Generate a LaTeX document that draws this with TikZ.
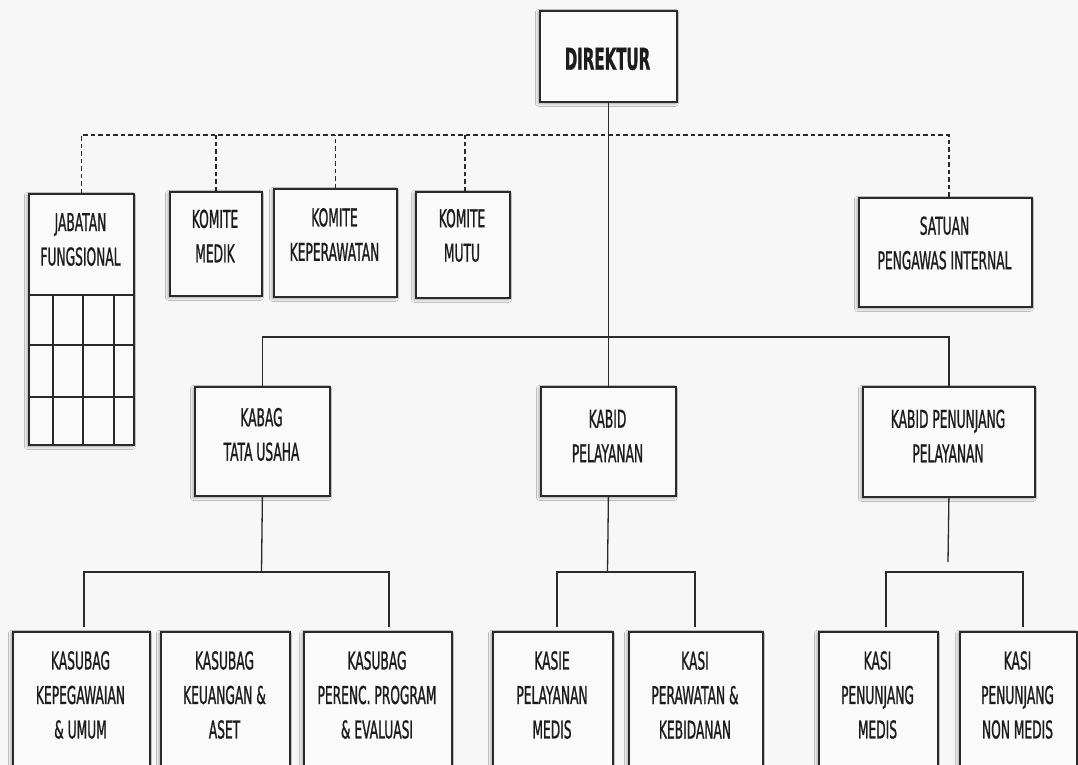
\documentclass[tikz,border=0pt]{standalone}
\usepackage{fontspec}
\setmainfont[FakeStretch=0.5,FakeBold=0.9]{DejaVu Sans}
\usetikzlibrary{shadows.blur}
\definecolor{bg}{HTML}{F7F7F7}
\definecolor{boxfill}{HTML}{FAFAFA}
\definecolor{ink}{HTML}{1C1C1C}
\definecolor{edge}{HTML}{2A2A2A}

\begin{document}
\begin{tikzpicture}[x=1pt,y=-1pt,
  box/.style={rectangle, draw=edge, line width=1.8pt, fill=boxfill, inner sep=0pt,
    anchor=north west,
    blur shadow={shadow xshift=-1.5pt, shadow yshift=-1.5pt,
      shadow blur radius=3pt, shadow opacity=40}},
  lbl/.style={align=center, text=ink, inner sep=0pt,
    font=\fontsize{24.5}{34.5}\selectfont},
  grid/.style={draw=edge, line width=1.4pt},
  conn/.style={draw=edge, line width=1.3pt},
  dconn/.style={conn, dash pattern=on 4.5pt off 3pt}]

% canvas and page frame
\fill[bg] (0,0) rectangle (1078,765);
\useasboundingbox (0,0) rectangle (1078,765);
\clip (0,0) rectangle (1078,765);

% ---- top level ----
\node[box, minimum width=137pt, minimum height=91pt] (dir) at (539,10) {};
\node[lbl, font=\fontsize{30}{36}\selectfont\bfseries] (dirt) at (607.5,59) {DIREKTUR};

% ---- staff / committee row ----
\node[box, minimum width=105pt, minimum height=251pt] (jf) at (28,193) {};
\node[box, minimum width=92pt,  minimum height=104pt] (km) at (169,191) {};
\node[box, minimum width=123pt, minimum height=108pt] (kk) at (273,188) {};
\node[box, minimum width=94pt,  minimum height=106pt] (kmu) at (415,191) {};
\node[box, minimum width=173pt, minimum height=109pt] (spi) at (858,197) {};

% table under the functional-positions header
\draw[grid] (28,295) -- (133,295);
\draw[grid] (28,345) -- (133,345);
\draw[grid] (28,397) -- (133,397);
\draw[grid] (53,295) -- (53,444);
\draw[grid] (83,295) -- (83,444);
\draw[grid] (114,295) -- (114,444);

\node[lbl] (jft)  at (80.5,239.5) {JABATAN\\FUNGSIONAL};
\node[lbl] (kmt)  at (215,236)    {KOMITE\\MEDIK};
\node[lbl] (kkt)  at (334.5,234.5){KOMITE\\KEPERAWATAN};
\node[lbl] (kmut) at (462,235.5)  {KOMITE\\MUTU};
\node[lbl] (spit) at (944.5,243)  {SATUAN\\PENGAWAS INTERNAL};

% ---- second level ----
\node[box, minimum width=135pt, minimum height=109pt] (kabag) at (194,386) {};
\node[box, minimum width=135pt, minimum height=109pt] (kp)    at (540,386) {};
\node[box, minimum width=172pt, minimum height=110pt] (kpp)   at (862,386) {};

\node[lbl] (kabagt) at (261.5,434.5) {KABAG\\TATA USAHA};
\node[lbl] (kpt)    at (607.5,436)   {KABID\\PELAYANAN};
\node[lbl] (kppt)   at (948,436)     {KABID PENUNJANG\\PELAYANAN};

% ---- third level ----
\node[box, minimum width=137pt, minimum height=144pt] (ks1) at (12,631) {};
\node[box, minimum width=129pt, minimum height=144pt] (ks2) at (160,631) {};
\node[box, minimum width=148pt, minimum height=144pt] (ks3) at (303,631) {};
\node[box, minimum width=120pt, minimum height=144pt] (ka1) at (492,631) {};
\node[box, minimum width=134pt, minimum height=144pt] (ka2) at (628,631) {};
\node[box, minimum width=119pt, minimum height=144pt] (kb1) at (818,631) {};
\node[box, minimum width=117pt, minimum height=144pt] (kb2) at (959,631) {};

\node[lbl] (ks1t) at (80.5,695)  {KASUBAG\\KEPEGAWAIAN\\\& UMUM};
\node[lbl] (ks2t) at (224.5,695) {KASUBAG\\KEUANGAN \&\\ASET};
\node[lbl] (ks3t) at (377,695)   {KASUBAG\\PERENC. PROGRAM\\\& EVALUASI};
\node[lbl] (ka1t) at (552,695)   {KASIE\\PELAYANAN\\MEDIS};
\node[lbl] (ka2t) at (695,695)   {KASI\\PERAWATAN \&\\KEBIDANAN};
\node[lbl] (kb1t) at (877.5,695) {KASI\\PENUNJANG\\MEDIS};
\node[lbl] (kb2t) at (1017.5,695){KASI\\PENUNJANG\\NON MEDIS};

% ---- junction points ----
\coordinate (dj) at (607.5,135);
\coordinate (sj) at (607.5,337);
\coordinate (g1) at (261.5,572);
\coordinate (g2) at (607.5,572);
\coordinate (g3) at (948,562);
\coordinate (g3b) at (948,572);

% ---- dashed staff lines ----
\draw[dconn] (jf.north) |- (dj) -| ([xshift=3.5pt]spi.north);
\draw[dconn] (km.north) -- (km.north |- dj);
\draw[dconn] (kk.north) -- (kk.north |- dj);
\draw[dconn] ([xshift=2pt]kmu.north) -- ([xshift=2pt]kmu.north |- dj);

% ---- solid line of command ----
\draw[conn] (dir.south) -- (kp.north);
\draw[conn] (kabag.north) |- (sj) -| (kpp.north);

\draw[conn] (kabag.south) -- (g1);
\draw[conn] ([xshift=2.5pt,yshift=4pt]ks1.north) |- (g1)
            -| ([xshift=11pt,yshift=4pt]ks3.north);

\draw[conn] (kp.south) -- (g2);
\draw[conn] ([xshift=4pt,yshift=4pt]ka1.north) |- (g2)
            -| ([xshift=-1pt,yshift=4pt]ka2.north);

\draw[conn] (kpp.south) -- (g3);
\draw[conn] ([xshift=7.5pt,yshift=4pt]kb1.north) |- (g3b)
            -| ([xshift=4.5pt,yshift=4pt]kb2.north);
\end{tikzpicture}
\end{document}
